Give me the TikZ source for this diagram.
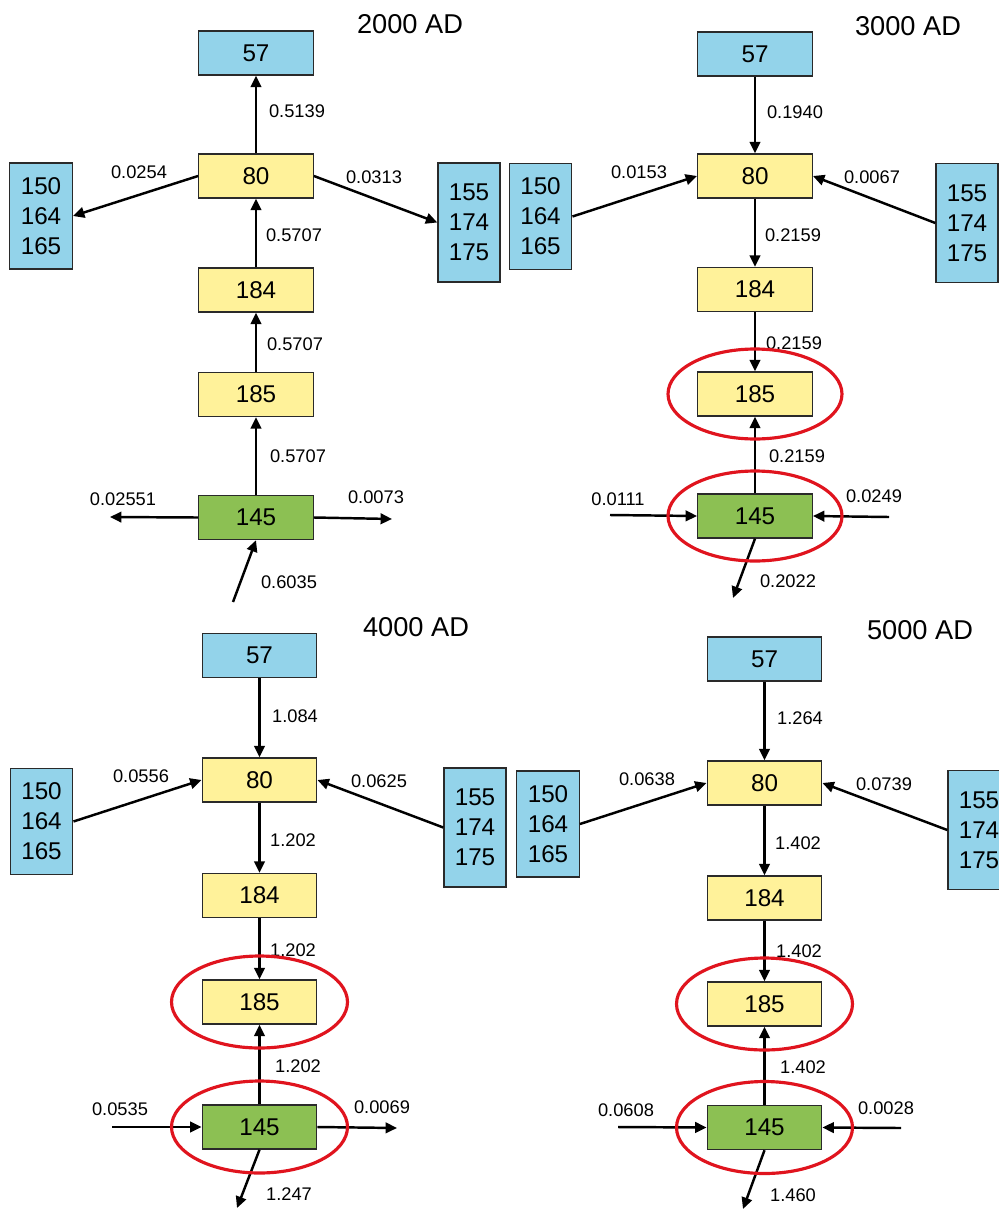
\documentclass[tikz,border=0pt]{standalone}
\usepackage{fontspec}
\setmainfont{Liberation Sans}
\usepackage{xcolor}
\usepackage{tikz}
\usetikzlibrary{arrows.meta}
\definecolor{cellblue}{HTML}{93D3EA}
\definecolor{cellyellow}{HTML}{FFF29A}
\definecolor{cellgreen}{HTML}{8CC053}
\definecolor{ringred}{HTML}{E0141E}
\definecolor{cellborder}{HTML}{2A2A2A}

\begin{document}
\begin{tikzpicture}[
    x=0.02cm, y=-0.02cm,
    cell/.style={rectangle, draw=cellborder, line width=0.8pt, inner sep=0pt, align=center, font=\fontsize{13.8}{17}\selectfont},
    topcell/.style={cell, fill=cellblue, minimum width=2.29cm, minimum height=0.88cm},
    midcell/.style={cell, fill=cellyellow, minimum width=2.29cm, minimum height=0.88cm},
    srccell/.style={cell, fill=cellgreen, minimum width=2.29cm, minimum height=0.88cm},
    leftcell/.style={cell, fill=cellblue, minimum width=1.25cm, minimum height=2.12cm},
    rightcell/.style={cell, fill=cellblue, minimum width=1.24cm, minimum height=2.38cm},
    flow/.style={-{Triangle[length=6.5pt,width=6pt]}, line width=1.4pt},
    rate/.style={font=\fontsize{10.4}{12}\selectfont, inner sep=0pt},
    era/.style={font=\fontsize{15.5}{18}\selectfont, inner sep=0pt},
    ring/.style={draw=ringred, line width=1.8pt}
]
    \useasboundingbox (0,0) rectangle (999,1210);

    % 2000 AD
    \node[era] (AT) at (410,24) {2000 AD};
    \node[topcell] (A57) at (256,53) {57};
    \node[midcell] (A80) at (256,176) {80};
    \node[midcell] (A184) at (256,290) {184};
    \node[midcell] (A185) at (256,394.5) {185};
    \node[srccell] (A145) at (256,517.5) {145};
    \node[leftcell] (ALFT) at (41,216) {150\\164\\165};
    \node[rightcell] (ARGT) at (469,222.5) {155\\174\\175};
    \coordinate (AoutW) at (110,517);
    \coordinate (AoutE) at (392,519);
    \coordinate (AinS) at (233,602);

    \draw[flow] (A80) -- (A57);
    \draw[flow] (A80.west) -- (ALFT.east);
    \draw[flow] (A80.east) -- (ARGT.west);
    \draw[flow] (A184) -- (A80);
    \draw[flow] (A185) -- (A184);
    \draw[flow] (A145) -- (A185);
    \draw[flow] (A145.west) -- (AoutW);
    \draw[flow] (A145.east) -- (AoutE);
    \draw[flow] (AinS) -- (A145.south);

    \node[rate] (a1) at (297,111) {0.5139};
    \node[rate] (a2) at (139,172) {0.0254};
    \node[rate] (a3) at (374,177) {0.0313};
    \node[rate] (a4) at (294,235) {0.5707};
    \node[rate] (a5) at (295,344) {0.5707};
    \node[rate] (a6) at (298,456) {0.5707};
    \node[rate] (a7) at (123,499) {0.02551};
    \node[rate] (a8) at (376,497) {0.0073};
    \node[rate] (a9) at (289,582) {0.6035};

    % 3000 AD
    \node[era] (BT) at (908,26) {3000 AD};
    \node[topcell] (B57) at (755,54) {57};
    \node[midcell] (B80) at (755,176) {80};
    \node[midcell] (B184) at (755,289.5) {184};
    \node[midcell] (B185) at (755,394) {185};
    \node[srccell] (B145) at (755,516) {145};
    \node[leftcell] (BLFT) at (540.5,216.5) {150\\164\\165};
    \node[rightcell] (BRGT) at (967,223) {155\\174\\175};
    \coordinate (BinW) at (610,515);
    \coordinate (BinE) at (889,517);
    \coordinate (BoutS) at (733,598);

    \draw[flow] (B57) -- (B80);
    \draw[flow] (BLFT.east) -- (B80.west);
    \draw[flow] (BRGT.west) -- (B80.east);
    \draw[flow] (B80) -- (B184);
    \draw[flow] (B184) -- (B185);
    \draw[flow] (B145) -- (B185);
    \draw[flow] (BinW) -- (B145.west);
    \draw[flow] (BinE) -- (B145.east);
    \draw[flow] (B145.south) -- (BoutS);

    \node[rate] (b1) at (795,112) {0.1940};
    \node[rate] (b2) at (639,172) {0.0153};
    \node[rate] (b3) at (872,177) {0.0067};
    \node[rate] (b4) at (793,235) {0.2159};
    \node[rate] (b5) at (794,343) {0.2159};
    \node[rate] (b6) at (797,456) {0.2159};
    \node[rate] (b7) at (618,499) {0.0111};
    \node[rate] (b8) at (874,496) {0.0249};
    \node[rate] (b9) at (788,581) {0.2022};

    \draw[ring] (B185) ellipse [x radius=1.74cm, y radius=0.9cm];
    \draw[ring] (B145) ellipse [x radius=1.74cm, y radius=0.9cm];

    % 4000 AD
    \node[era] (CT) at (416,627) {4000 AD};
    \node[topcell] (C57) at (259.5,655.5) {57};
    \node[midcell] (C80) at (259.5,780) {80};
    \node[midcell] (C184) at (259.5,895.5) {184};
    \node[midcell] (C185) at (259.5,1002) {185};
    \node[srccell] (C145) at (259.5,1127) {145};
    \node[leftcell] (CLFT) at (41.5,821.5) {150\\164\\165};
    \node[rightcell] (CRGT) at (475,827.5) {155\\174\\175};
    \coordinate (CinW) at (112,1127);
    \coordinate (CoutE) at (397,1128);
    \coordinate (CoutS) at (237,1208);

    \draw[flow] (C57) -- (C80);
    \draw[flow] (CLFT.east) -- (C80.west);
    \draw[flow] (CRGT.west) -- (C80.east);
    \draw[flow] (C80) -- (C184);
    \draw[flow] (C184) -- (C185);
    \draw[flow] (C145) -- (C185);
    \draw[flow] (CinW) -- (C145.west);
    \draw[flow] (C145.east) -- (CoutE);
    \draw[flow] (C145.south) -- (CoutS);

    \node[rate] (c1) at (295,716) {1.084};
    \node[rate] (c2) at (141,776) {0.0556};
    \node[rate] (c3) at (379,781) {0.0625};
    \node[rate] (c4) at (293,840) {1.202};
    \node[rate] (c5) at (293,950) {1.202};
    \node[rate] (c6) at (298,1066) {1.202};
    \node[rate] (c7) at (120,1109) {0.0535};
    \node[rate] (c8) at (382,1107) {0.0069};
    \node[rate] (c9) at (289,1194) {1.247};

    \draw[ring] (C185) ellipse [x radius=1.76cm, y radius=0.92cm];
    \draw[ring] (C145) ellipse [x radius=1.76cm, y radius=0.92cm];

    % 5000 AD
    \node[era] (DT) at (920,630) {5000 AD};
    \node[topcell] (D57) at (764.5,659) {57};
    \node[midcell] (D80) at (764.5,783) {80};
    \node[midcell] (D184) at (764.5,898) {184};
    \node[midcell] (D185) at (764.5,1004) {185};
    \node[srccell] (D145) at (764.5,1127.5) {145};
    \node[leftcell] (DLFT) at (548,824) {150\\164\\165};
    \node[rightcell] (DRGT) at (979,830) {155\\174\\175};
    \coordinate (DinW) at (618,1127);
    \coordinate (DinE) at (901,1128);
    \coordinate (DoutS) at (743,1209);

    \draw[flow] (D57) -- (D80);
    \draw[flow] (DLFT.east) -- (D80.west);
    \draw[flow] (DRGT.west) -- (D80.east);
    \draw[flow] (D80) -- (D184);
    \draw[flow] (D184) -- (D185);
    \draw[flow] (D145) -- (D185);
    \draw[flow] (DinW) -- (D145.west);
    \draw[flow] (DinE) -- (D145.east);
    \draw[flow] (D145.south) -- (DoutS);

    \node[rate] (d1) at (800,718) {1.264};
    \node[rate] (d2) at (647,779) {0.0638};
    \node[rate] (d3) at (884,784) {0.0739};
    \node[rate] (d4) at (798,843) {1.402};
    \node[rate] (d5) at (799,951) {1.402};
    \node[rate] (d6) at (803,1067) {1.402};
    \node[rate] (d7) at (626,1110) {0.0608};
    \node[rate] (d8) at (886,1108) {0.0028};
    \node[rate] (d9) at (793,1195) {1.460};

    \draw[ring] (D185) ellipse [x radius=1.76cm, y radius=0.92cm];
    \draw[ring] (D145) ellipse [x radius=1.76cm, y radius=0.92cm];
\end{tikzpicture}
\end{document}
